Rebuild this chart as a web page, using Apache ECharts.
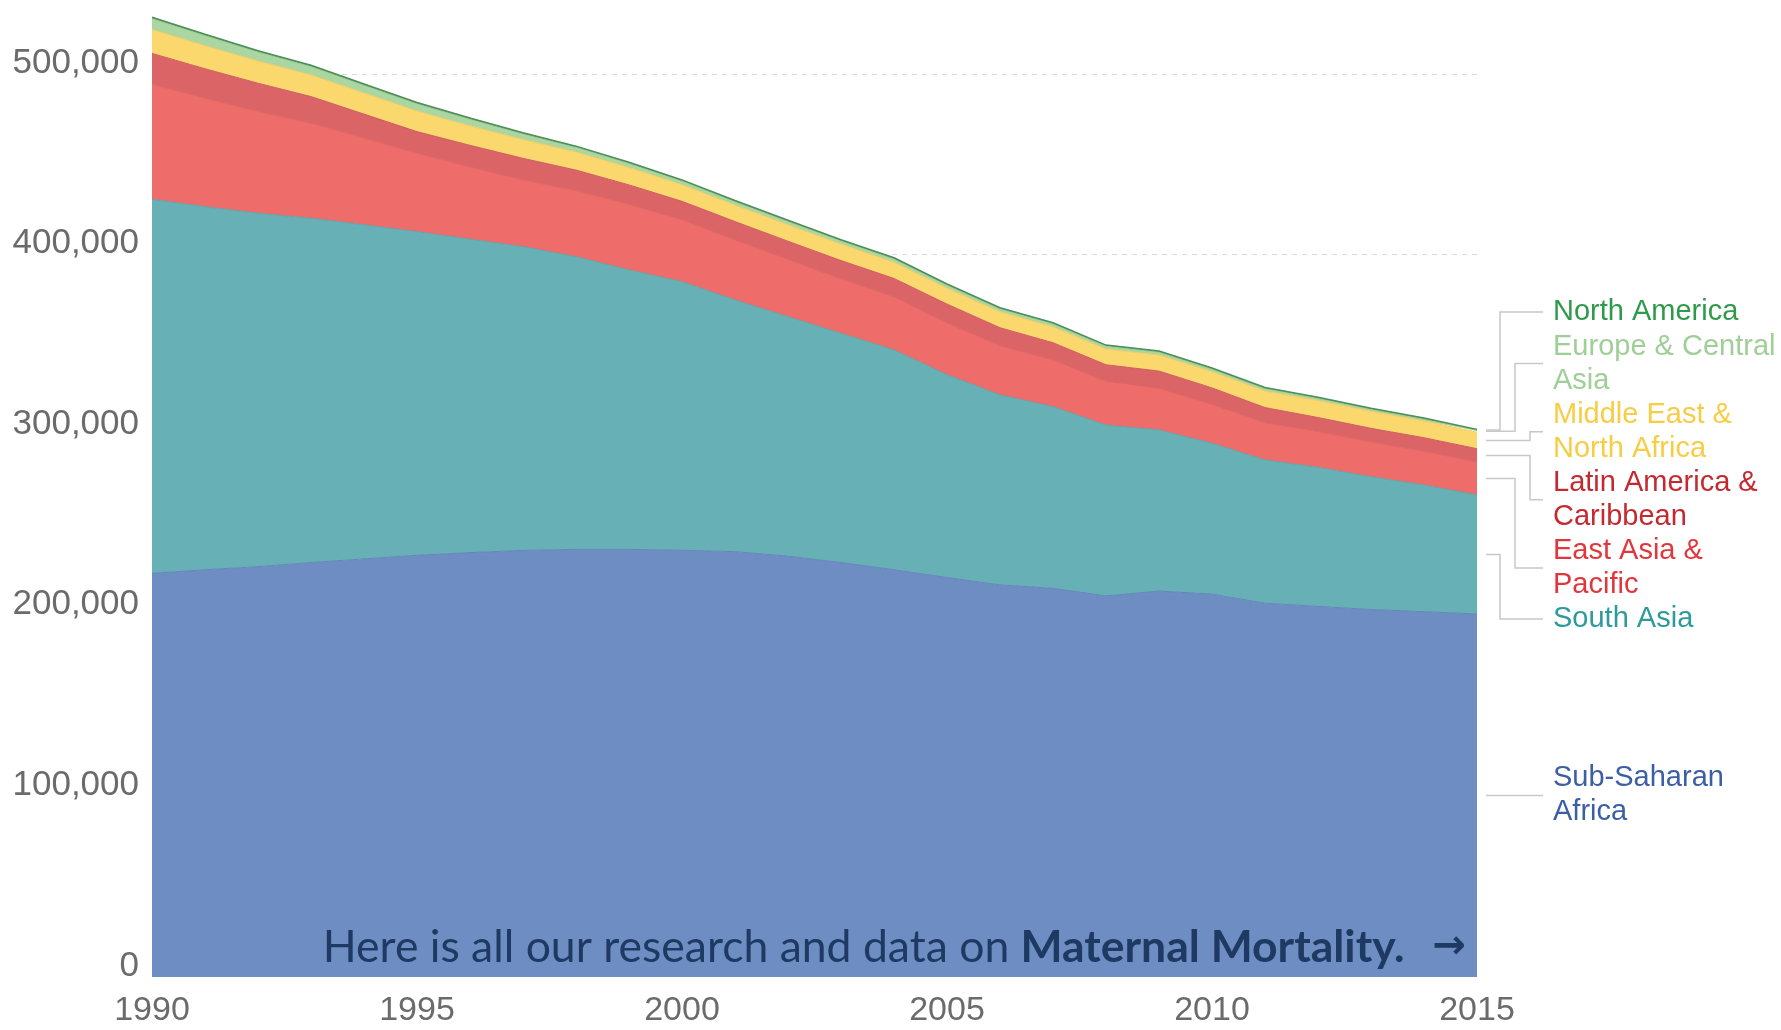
<!DOCTYPE html>
<html>
<head>
<meta charset="utf-8">
<script src="https://cdn.jsdelivr.net/npm/echarts@6/dist/echarts.min.js"></script>
<style>
  html, body { margin: 0; padding: 0; background: #fff; }
  #chart { width: 1781px; height: 1030px; }
</style>
</head>
<body>
<div id="chart"></div>
<script>
// years on the x axis
const years = ['1990', '1991', '1992', '1993', '1994', '1995', '1996', '1997', '1998', '1999',
  '2000', '2001', '2002', '2003', '2004', '2005', '2006', '2007', '2008', '2009',
  '2010', '2011', '2012', '2013', '2014', '2015']
const yTicks = [0, 100000, 200000, 300000, 400000, 500000]

// maternal deaths by region
const subSaharanAfrica = [223500, 225500, 227200, 229500, 231500, 233500, 235000, 236200, 236800, 236800,
  236300, 235500, 233000, 229500, 225500, 221200, 217100, 215200, 211000, 213700,
  212000, 207000, 205200, 203500, 202300, 201000]
const southAsia = [207100, 201000, 195700, 190600, 185000, 179200, 173500, 168200, 162000, 154700,
  148700, 139400, 132600, 126900, 121700, 112300, 105200, 100600, 94600, 89200,
  83500, 79300, 77000, 73500, 70100, 65900]
const eastAsiaPacific = [63800, 60000, 56300, 52600, 48000, 43400, 40000, 36900, 36500, 36300,
  34300, 33200, 31700, 30200, 29300, 28600, 27200, 25800, 24200, 23000,
  21500, 20600, 19800, 19200, 18700, 18200]
const latinAmerica = [17000, 16400, 15700, 14800, 13300, 12000, 12000, 12000, 11500, 10800,
  10200, 10200, 10100, 10100, 10300, 10500, 10000, 9600, 9200, 9600,
  9200, 8400, 7800, 7600, 7500, 7400]
const middleEast = [13300, 12800, 12300, 12000, 11700, 11400, 10800, 10400, 10000, 9600,
  9200, 9100, 9100, 9100, 9000, 8800, 8800, 8800, 8700, 8900,
  9000, 9200, 9400, 9400, 9300, 9200]
const europeCentralAsia = [6000, 5600, 5000, 4600, 4300, 4000, 3600, 3100, 2600, 2300,
  2000, 1900, 1900, 1800, 1800, 1700, 1700, 1700, 1600, 1600,
  1400, 1300, 1200, 1100, 1000, 900]
const northAmerica = [700, 700, 700, 700, 700, 700, 700, 650, 650, 650,
  650, 650, 650, 650, 650, 600, 600, 600, 600, 600,
  600, 600, 600, 600, 600, 600]

// bottom-up stacking order
const regions = [
  { name: 'Sub-Saharan Africa', data: subSaharanAfrica, fill: '#6e8ec3', line: '#6584bb', text: '#3b5ea6', lines: ['Sub-Saharan', 'Africa'] },
  { name: 'South Asia', data: southAsia, fill: '#67b1b6', line: '#5fa5aa', text: '#2d9a9b', lines: ['South Asia'] },
  { name: 'East Asia & Pacific', data: eastAsiaPacific, fill: '#ee6d6a', line: '#e06462', text: '#e2363d', lines: ['East Asia &', 'Pacific'] },
  { name: 'Latin America & Caribbean', data: latinAmerica, fill: '#db6467', line: '#cf5c5f', text: '#c5292f', lines: ['Latin America &', 'Caribbean'] },
  { name: 'Middle East & North Africa', data: middleEast, fill: '#fbd86e', line: '#f0cd66', text: '#f7cd45', lines: ['Middle East &', 'North Africa'] },
  { name: 'Europe & Central Asia', data: europeCentralAsia, fill: '#a9d6a1', line: '#9dca95', text: '#9fcf97', lines: ['Europe & Central', 'Asia'] },
  { name: 'North America', data: northAmerica, fill: '#5a9e64', line: '#4e8f58', text: '#2f9a4b', lines: ['North America'] },
]

// label block placement on the right: first line y, elbow x
const labelLayout = {
  'North America': { y: 312, elbow: 1500 },
  'Europe & Central Asia': { y: 346.5, elbow: 1515 },
  'Middle East & North Africa': { y: 414.6, elbow: 1530 },
  'Latin America & Caribbean': { y: 482.8, elbow: 1530 },
  'East Asia & Pacific': { y: 551, elbow: 1515 },
  'South Asia': { y: 619, elbow: 1500 },
  'Sub-Saharan Africa': { y: 778, elbow: null },
}
const lineStep = 34.1

const chartDom = document.getElementById('chart')
const chart = echarts.init(chartDom, null, { renderer: 'canvas' })

const option = {
  animation: false,
  backgroundColor: '#ffffff',
  grid: { left: 152, right: 304, top: 74, bottom: 53, containLabel: false },
  xAxis: {
    type: 'category',
    data: years,
    boundaryGap: false,
    axisLine: { show: false },
    axisTick: { show: false },
    splitLine: { show: false },
    axisLabel: {
      interval: 4,
      margin: 17,
      color: '#6b6b6b',
      fontFamily: 'Liberation Sans',
      fontSize: 34,
    },
  },
  yAxis: {
    type: 'value',
    min: yTicks[0],
    max: yTicks[yTicks.length - 1],
    interval: 100000,
    axisLine: { show: false },
    axisTick: { show: false },
    splitLine: { show: true, showMinLine: false, lineStyle: { color: '#d9d9d9', type: [5, 5], width: 1 } },
    axisLabel: {
      margin: 13,
      color: '#6b6b6b',
      fontFamily: 'Liberation Sans',
      fontSize: 35,
      verticalAlign: 'bottom',
      lineHeight: 22,
      formatter: (v) => v.toLocaleString('en-US'),
    },
  },
  series: regions.map(r => ({
    name: r.name,
    type: 'line',
    stack: 'deaths',
    data: r.data,
    clip: false,
    symbol: 'none',
    smooth: false,
    lineStyle: { color: r.line, width: r.name === 'North America' ? 1.5 : 1 },
    areaStyle: { color: r.fill, opacity: 1 },
    emphasis: { disabled: true },
  })),
}
chart.setOption(option)

// leader lines + region labels, anchored to each band's middle at 2015
const last = years.length - 1
const gridRightX = chart.convertToPixel({ xAxisIndex: 0 }, last)
const startX = gridRightX + 9
const endX = 1543
const textX = 1553
const graphics = []
let base = 0
regions.forEach(r => {
  const v = r.data[last]
  const midY = chart.convertToPixel({ yAxisIndex: 0 }, base + v / 2)
  base += v
  const lay = labelLayout[r.name]
  const blockY = lay.y + (r.lines.length - 1) * lineStep / 2
  const pts = lay.elbow === null
    ? [[startX, midY], [endX, midY]]
    : [[startX, midY], [lay.elbow, midY], [lay.elbow, blockY], [endX, blockY]]
  graphics.push({
    type: 'polyline',
    z: 100,
    shape: { points: pts },
    style: { stroke: '#c8c8c8', lineWidth: 1.5, fill: null },
    silent: true,
  })
  r.lines.forEach((t, i) => {
    graphics.push({
      type: 'text',
      z: 100,
      x: textX,
      y: lay.y + i * lineStep,
      style: {
        text: t,
        fill: r.text,
        font: '29px "Liberation Sans"',
        verticalAlign: 'middle',
        align: 'left',
      },
      silent: true,
    })
  })
})

// link text over the bottom of the chart
graphics.push({
  type: 'text',
  z: 100,
  x: 1466,
  y: 948,
  style: {
    text: '{a|Here is all our research and data on }{b|Maternal Mortality.}{c|  →}',
    align: 'right',
    verticalAlign: 'middle',
    rich: {
      a: { fontFamily: 'Lato', fontSize: 44.5, fill: '#1e3a62', fontWeight: 'normal' },
      b: { fontFamily: 'Lato', fontSize: 44.5, fill: '#1e3a62', fontWeight: 'bold' },
      c: { fontFamily: 'DejaVu Sans', fontSize: 40, fill: '#1e3a62', fontWeight: 'bold' },
    },
  },
  silent: true,
})

chart.setOption({ graphic: graphics })
window.addEventListener('resize', () => chart.resize())
</script>
</body>
</html>
